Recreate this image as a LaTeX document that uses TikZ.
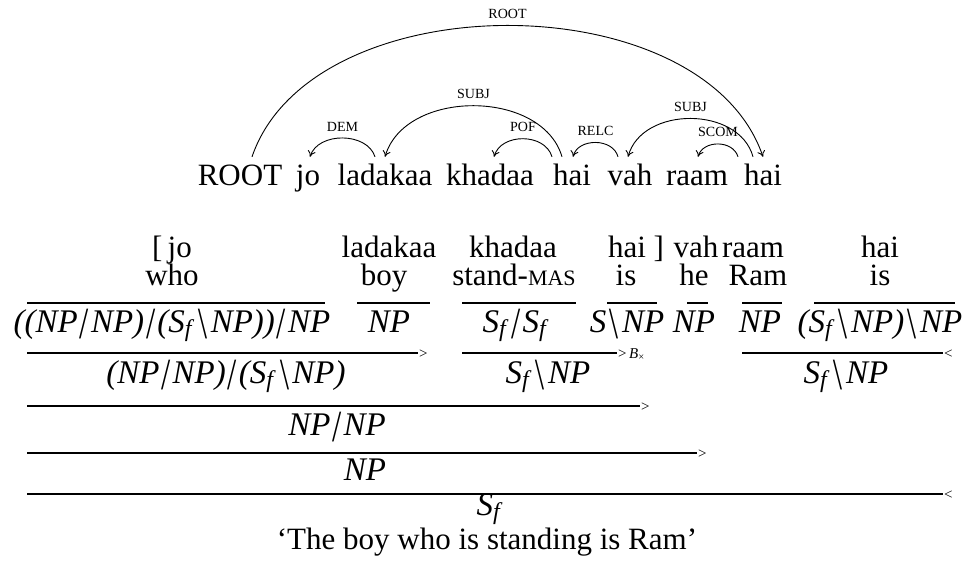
\documentclass[tikz,border=0pt]{standalone}
\usepackage{fontspec}
\setmainfont{Liberation Serif}
\usepackage{graphicx}
\usetikzlibrary{arrows.meta}

% category symbols: tall slash and backslash, subscripted S
\newcommand\fsl{{\upshape\hspace{0.06em}\raisebox{-0.2em}{\scalebox{1}[1.35]{/}}\hspace{0.06em}}}
\newcommand\bsl{{\upshape\hspace{0.1em}\raisebox{-0.2em}{\reflectbox{\scalebox{1}[1.35]{/}}}\hspace{0.1em}}}
\newcommand\Sf{S{\fontsize{24}{24}\selectfont\raisebox{-0.2em}{f}\kern0.15em}}
\newcommand\smallcap[1]{{\fontsize{22}{22}\selectfont #1}}

\tikzset{
  word/.style={font=\fontsize{31}{36}\selectfont, anchor=base, text height=22pt,
    text depth=7pt, inner xsep=0pt, inner ysep=6pt},
  deplabel/.style={font=\fontsize{14}{16}\selectfont, inner sep=2pt},
  deparc/.style={line width=0.9pt, -{To[length=6pt,width=8pt]}},
  gloss/.style={font=\fontsize{31}{36}\selectfont, anchor=base, inner sep=0pt},
  cat/.style={font=\fontsize{33}{36}\selectfont\itshape, anchor=base, inner sep=0pt},
  ccgrule/.style={line width=1.1pt},
  ruletag/.style={font=\fontsize{15}{16}\selectfont, anchor=base west, inner sep=1pt},
}

\begin{document}
\begin{tikzpicture}[x=1pt, y=-1pt]
\useasboundingbox (0,0) rectangle (965,564);

% ---------- dependency tree ----------
\node[word] (w0) at (240,185) {ROOT};
\node[word] (w1) at (308,185) {jo};
\node[word] (w2) at (385,185) {ladakaa};
\node[word] (w3) at (490,185) {khadaa};
\node[word] (w4) at (572,185) {hai};
\node[word] (w5) at (630,185) {vah};
\node[word] (w6) at (697,185) {raam};
\node[word] (w7) at (763,185) {hai};

\draw[deparc] ([xshift=12pt]w0.north) .. controls +(60,-175) and +(-60,-175) .. (w7.north)
  node[deplabel, midway, above=4.5pt] (lroot) {ROOT};
\draw[deparc] ([xshift=-10pt]w2.north) .. controls +(-8,-25) and +(8,-25) .. ([xshift=2pt]w1.north)
  node[deplabel, midway, above=4.5pt] (ldem) {DEM};
\draw[deparc] ([xshift=-10pt]w4.north) .. controls +(-20,-68) and +(20,-68) .. (w2.north)
  node[deplabel, midway, above=4.5pt] (lsubja) {SUBJ};
\draw[deparc] ([xshift=-20pt]w4.north) .. controls +(-7,-24) and +(7,-24) .. ([xshift=4pt]w3.north)
  node[deplabel, midway, above=4.5pt] (lpof) {POF};
\draw[deparc] ([xshift=-12pt]w5.north) .. controls +(-5,-19) and +(5,-19) .. ([xshift=1pt]w4.north)
  node[deplabel, midway, above=4.5pt] (lrelc) {RELC};
\draw[deparc] ([xshift=-10pt]w7.north) .. controls +(-14,-51) and +(14,-51) .. ([xshift=-2pt]w5.north)
  node[deplabel, midway, above=4.5pt] (lsubjb) {SUBJ};
\draw[deparc] ([xshift=-25pt]w7.north) .. controls +(-5,-17) and +(5,-17) .. ([xshift=1pt]w6.north)
  node[deplabel, midway, above=4.5pt] (lscom) {SCOM};

% ---------- CCG derivation ----------
% words and glosses
\node[gloss] (g1) at (172,257) {[\,jo};
\node[gloss] (e1) at (172,285) {who};
\node[gloss] (g2) at (389,257) {ladakaa};
\node[gloss] (e2) at (384,285) {boy};
\node[gloss] (g3) at (513,257) {khadaa};
\node[gloss] (e3) at (514,285) {stand-\smallcap{MAS}};
\node[gloss] (g4) at (636,257) {hai ]};
\node[gloss] (e4) at (626,285) {is};
\node[gloss] (g5) at (696,257) {vah};
\node[gloss] (e5) at (694,285) {he};
\node[gloss] (g6) at (753,257) {raam};
\node[gloss] (e6) at (758,285) {Ram};
\node[gloss] (g7) at (880,257) {hai};
\node[gloss] (e7) at (880,285) {is};

% lexical rules
\draw[ccgrule] (27,303) coordinate (l1s) -- (325,303) coordinate (l1e);
\draw[ccgrule] (357,303) coordinate (l2s) -- (430,303) coordinate (l2e);
\draw[ccgrule] (462,303) coordinate (l3s) -- (576,303) coordinate (l3e);
\draw[ccgrule] (607,303) coordinate (l4s) -- (657,303) coordinate (l4e);
\draw[ccgrule] (687,303) coordinate (l5s) -- (708,303) coordinate (l5e);
\draw[ccgrule] (742,303) coordinate (l6s) -- (782,303) coordinate (l6e);
\draw[ccgrule] (814,303) coordinate (l7s) -- (955,303) coordinate (l7e);

% lexical categories
\node[cat] (c1) at (172,332) {((NP\fsl NP)\fsl(\Sf\bsl NP))\fsl NP};
\node[cat] (c2) at (389,332) {NP};
\node[cat] (c3) at (516,332) {\Sf\fsl\Sf};
\node[cat] (c4) at (627,332) {S\bsl NP};
\node[cat] (c5) at (694,332) {NP};
\node[cat] (c6) at (760,332) {NP};
\node[cat] (c7) at (880,332) {(\Sf\bsl NP)\bsl NP};

% first combinations
\draw[ccgrule] (27,353) coordinate (a1s) -- (418,353) coordinate (a1e);
\node[ruletag] (t1) at ([yshift=-5pt]a1e) {>};
\draw[ccgrule] (462,353) coordinate (a2s) -- (617,353) coordinate (a2e);
\node[ruletag] (t2) at ([yshift=-5pt]a2e) {>\,\textit{B}\textsubscript{×}};
\draw[ccgrule] (742,353) coordinate (a3s) -- (943,353) coordinate (a3e);
\node[ruletag] (t3) at ([yshift=-5pt]a3e) {<};

\node[cat] (r1) at (226,383) {(NP\fsl NP)\fsl(\Sf\bsl NP)};
\node[cat] (r2) at (548,383) {\Sf\bsl NP};
\node[cat] (r3) at (846,383) {\Sf\bsl NP};

% NP/NP
\draw[ccgrule] (27,406) coordinate (b1s) -- (640,406) coordinate (b1e);
\node[ruletag] (t4) at ([yshift=-5pt]b1e) {>};
\node[cat] (r4) at (337,435) {NP\fsl NP};

% NP
\draw[ccgrule] (27,453) coordinate (b2s) -- (697,453) coordinate (b2e);
\node[ruletag] (t5) at ([yshift=-5pt]b2e) {>};
\node[cat] (r5) at (365,480) {NP};

% S_f
\draw[ccgrule] (27,494) coordinate (b3s) -- (943,494) coordinate (b3e);
\node[ruletag] (t6) at ([yshift=-5pt]b3e) {<};
\node[cat] (r6) at (490,515) {\Sf};

\node[gloss] (tr) at (487,549) {`The boy who is standing is Ram'};
\end{tikzpicture}
\end{document}
